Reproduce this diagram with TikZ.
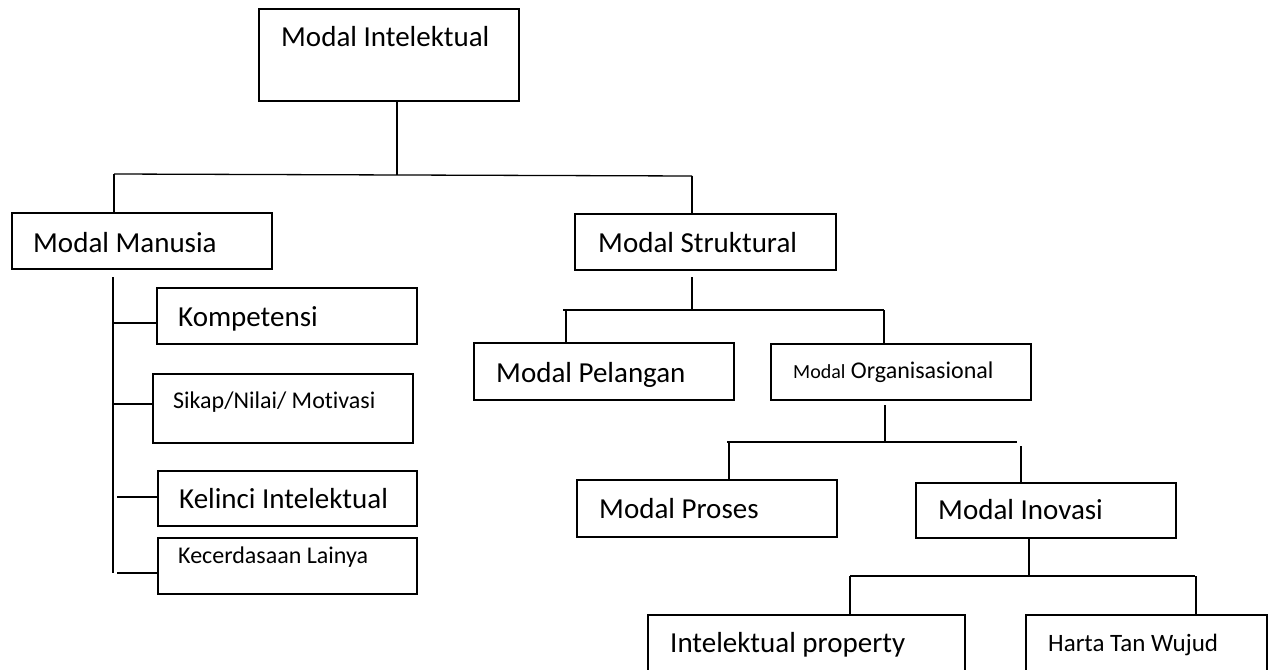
\documentclass[tikz,border=0pt]{standalone}
\usepackage{fontspec}
\setmainfont{Carlito}[Ligatures={NoCommon}]
\begin{document}
\begin{tikzpicture}[x=1pt,y=-1pt,
  box/.style={draw=black,line width=1.4pt,rectangle,inner sep=0pt,fill=none},
  conn/.style={draw=black,line width=1.3pt},
  lbl/.style={anchor=base west,inner sep=0pt,text=black},
  big/.style={font=\fontsize{29}{34}\selectfont},
  small/.style={font=\fontsize{24}{29}\selectfont}]
\clip (0,0) rectangle (1268,669);
\fill[white] (0,0) rectangle (1268,669);
% boxes
\node[box,minimum width=260pt,minimum height=92pt] (mi) at (389,55) {};
\node[box,minimum width=260pt,minimum height=56pt] (mm) at (142,241) {};
\node[box,minimum width=261pt,minimum height=56pt] (ms) at (705.5,242) {};
\node[box,minimum width=260pt,minimum height=56pt] (komp) at (287,316) {};
\node[box,minimum width=260pt,minimum height=69pt] (sikap) at (283,408.5) {};
\node[box,minimum width=259pt,minimum height=55pt] (kel) at (287.5,498.5) {};
\node[box,minimum width=259pt,minimum height=56pt] (kec) at (287.5,566) {};
\node[box,minimum width=260pt,minimum height=57pt] (pel) at (604,371.5) {};
\node[box,minimum width=260pt,minimum height=56pt] (org) at (901,372) {};
\node[box,minimum width=260pt,minimum height=57pt] (pro) at (707,508.5) {};
\node[box,minimum width=260pt,minimum height=55pt] (ino) at (1046,510.5) {};
\node[box,minimum width=317pt,minimum height=85pt] (ip) at (806.5,657.5) {};
\node[box,minimum width=241pt,minimum height=85pt] (harta) at (1146.5,657.5) {};
% texts
\node[lbl,big] (tmi) at (281,47) {Modal Intelektual};
\node[lbl,big] (tmm) at (33,252) {Modal Manusia};
\node[lbl,big] (tms) at (598,252) {Modal Struktural};
\node[lbl,big] (tkomp) at (178,326) {Kompetensi};
\node[lbl,small] (tsikap) at (173,408) {Sikap/Nilai/ Motivasi};
\node[lbl,big] (tkel) at (179,508) {Kelinci Intelektual};
\node[lbl,small] (tkec) at (178,563) {Kecerdasaan Lainya};
\node[lbl,big] (tpel) at (496,382) {Modal Pelangan};
\node[lbl,small] (torg) at (793,378) {{\fontsize{20}{24}\selectfont Modal} Organisasional};
\node[lbl,big] (tpro) at (599,518) {Modal Proses};
\node[lbl,big] (tino) at (938,519) {Modal Inovasi};
\node[lbl,big] (tip) at (670,652) {Intelektual property};
\node[lbl,font=\fontsize{25}{30}\selectfont] (tharta) at (1048,651) {Harta Tan Wujud};
% junction coordinates
\coordinate (j1) at (397,175);
\coordinate (j1l) at (114,174);
\coordinate (j1r) at (692,176);
\coordinate (lt) at (113,277);
\coordinate (lb) at (113,573);
\coordinate (bk) at (113,323);
\coordinate (bs) at (113,404);
\coordinate (bl) at (117,497);
\coordinate (bc) at (117,573);
\coordinate (s0) at (692,277);
\coordinate (s1) at (692,310);
\coordinate (s1l) at (563,310);
\coordinate (s1r) at (884,310);
\coordinate (sp) at (566,310);
\coordinate (o0) at (885,405);
\coordinate (o1) at (885,442);
\coordinate (o1l) at (727,442);
\coordinate (o1r) at (1017,442);
\coordinate (op) at (729,442);
\coordinate (oi) at (1021,446);
\coordinate (i1) at (1029,576);
\coordinate (i1l) at (850,576);
\coordinate (i1r) at (1195,576);
\coordinate (ih) at (1196,576);
% connectors
\draw[conn] (j1 |- mi.south) -- (j1);
\draw[conn] (j1l) -- (j1r);
\draw[conn] (j1l) -- (j1l |- mm.north);
\draw[conn] (j1r) -- (j1r |- ms.north);
\draw[conn] (lt) -- (lb);
\draw[conn] (bk) -- (komp.west |- bk);
\draw[conn] (bs) -- (sikap.west |- bs);
\draw[conn] (bl) -- (kel.west |- bl);
\draw[conn] (bc) -- (kec.west |- bc);
\draw[conn] (s0) -- (s1);
\draw[conn] (s1l) -- (s1r);
\draw[conn] (sp) -- (sp |- pel.north);
\draw[conn] (s1r) -- (s1r |- org.north);
\draw[conn] (o0) -- (o1);
\draw[conn] (o1l) -- (o1r);
\draw[conn] (op) -- (op |- pro.north);
\draw[conn] (oi) -- (oi |- ino.north);
\draw[conn] (i1 |- ino.south) -- (i1);
\draw[conn] (i1l) -- (i1r);
\draw[conn] (i1l) -- (i1l |- ip.north);
\draw[conn] (ih) -- (ih |- harta.north);
\end{tikzpicture}
\end{document}
